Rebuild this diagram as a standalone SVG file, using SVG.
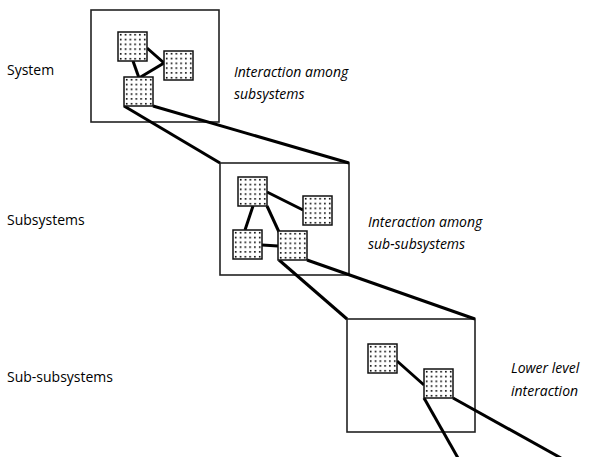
<svg xmlns="http://www.w3.org/2000/svg" xmlns:xlink="http://www.w3.org/1999/xlink" width="594" height="457" viewBox="0 0 594 457">
  <style>
    .frame { fill: none; stroke: #222; stroke-width: 1.6; }
    .link { fill: none; stroke: #000; stroke-width: 3; stroke-linejoin: miter; }
    .label { font-family: "Open Sans", "Noto Sans", "DejaVu Sans", sans-serif; font-size: 14px; fill: #000; }
    .note { font-family: "Open Sans", "Noto Sans", "DejaVu Sans", sans-serif; font-size: 14px; font-style: italic; fill: #000; }
  </style>
  <defs>
    <pattern id="dots" patternUnits="userSpaceOnUse" x="0" y="0" width="4.8" height="4.8">
      <rect x="1.9" y="1.9" width="1.6" height="1.6" fill="#000"/>
    </pattern>
    <!-- dotted component square -->
    <g id="cell">
      <rect x="0" y="0" width="29" height="29" fill="#fff"/>
      <rect x="0" y="0" width="29" height="29" fill="url(#dots)" stroke="#111" stroke-width="1.5"/>
    </g>
  </defs>
  <rect width="594" height="457" fill="#fff"/>

  <!-- level labels -->
  <text class="label" x="7" y="75">System</text>
  <text class="label" x="7" y="225">Subsystems</text>
  <text class="label" x="7" y="382">Sub-subsystems</text>

  <!-- level frames -->
  <g id="system">
    <rect class="frame" x="91" y="10" width="128" height="112"/>
  </g>
  <g id="subsystems">
    <rect class="frame" x="220" y="163" width="129" height="112"/>
  </g>
  <g id="sub-subsystems">
    <rect class="frame" x="347" y="319" width="128" height="113"/>
  </g>

  <g id="connectors">
    <!-- system level -->
    <line class="link" x1="133" y1="61" x2="139" y2="78"/>
    <polyline class="link" points="147,48 164,63 139,78"/>
    <!-- zoom into subsystems -->
    <line class="link" x1="124" y1="106" x2="220" y2="163"/>
    <line class="link" x1="153" y1="106" x2="349" y2="163"/>
    <!-- subsystem level -->
    <line class="link" x1="267" y1="192" x2="303" y2="210"/>
    <line class="link" x1="253" y1="206" x2="245" y2="230"/>
    <line class="link" x1="267" y1="206" x2="279" y2="232"/>
    <line class="link" x1="262" y1="245" x2="278" y2="246"/>
    <!-- zoom into sub-subsystems -->
    <line class="link" x1="279" y1="260" x2="347" y2="319"/>
    <line class="link" x1="307" y1="260" x2="475" y2="319"/>
    <!-- sub-subsystem level -->
    <line class="link" x1="397" y1="361" x2="424" y2="385"/>
    <line class="link" x1="424" y1="398" x2="458" y2="458"/>
    <line class="link" x1="453" y1="398" x2="561" y2="458"/>
  </g>

  <!-- components -->
  <g id="system-parts">
    <use xlink:href="#cell" x="118" y="32"/>
    <use xlink:href="#cell" x="164" y="51"/>
    <use xlink:href="#cell" x="124" y="77"/>
  </g>
  <g id="subsystem-parts">
    <use xlink:href="#cell" x="238" y="177"/>
    <use xlink:href="#cell" x="303" y="196"/>
    <use xlink:href="#cell" x="233" y="230"/>
    <use xlink:href="#cell" x="278" y="231"/>
  </g>
  <g id="sub-subsystem-parts">
    <use xlink:href="#cell" x="368" y="344"/>
    <use xlink:href="#cell" x="424" y="369"/>
  </g>

  <!-- interaction notes -->
  <text class="note" x="234" y="77">Interaction among</text>
  <text class="note" x="234" y="99">subsystems</text>
  <text class="note" x="368" y="227">Interaction among</text>
  <text class="note" x="368" y="249">sub-subsystems</text>
  <text class="note" x="511" y="373">Lower level</text>
  <text class="note" x="511" y="396">interaction</text>
</svg>
